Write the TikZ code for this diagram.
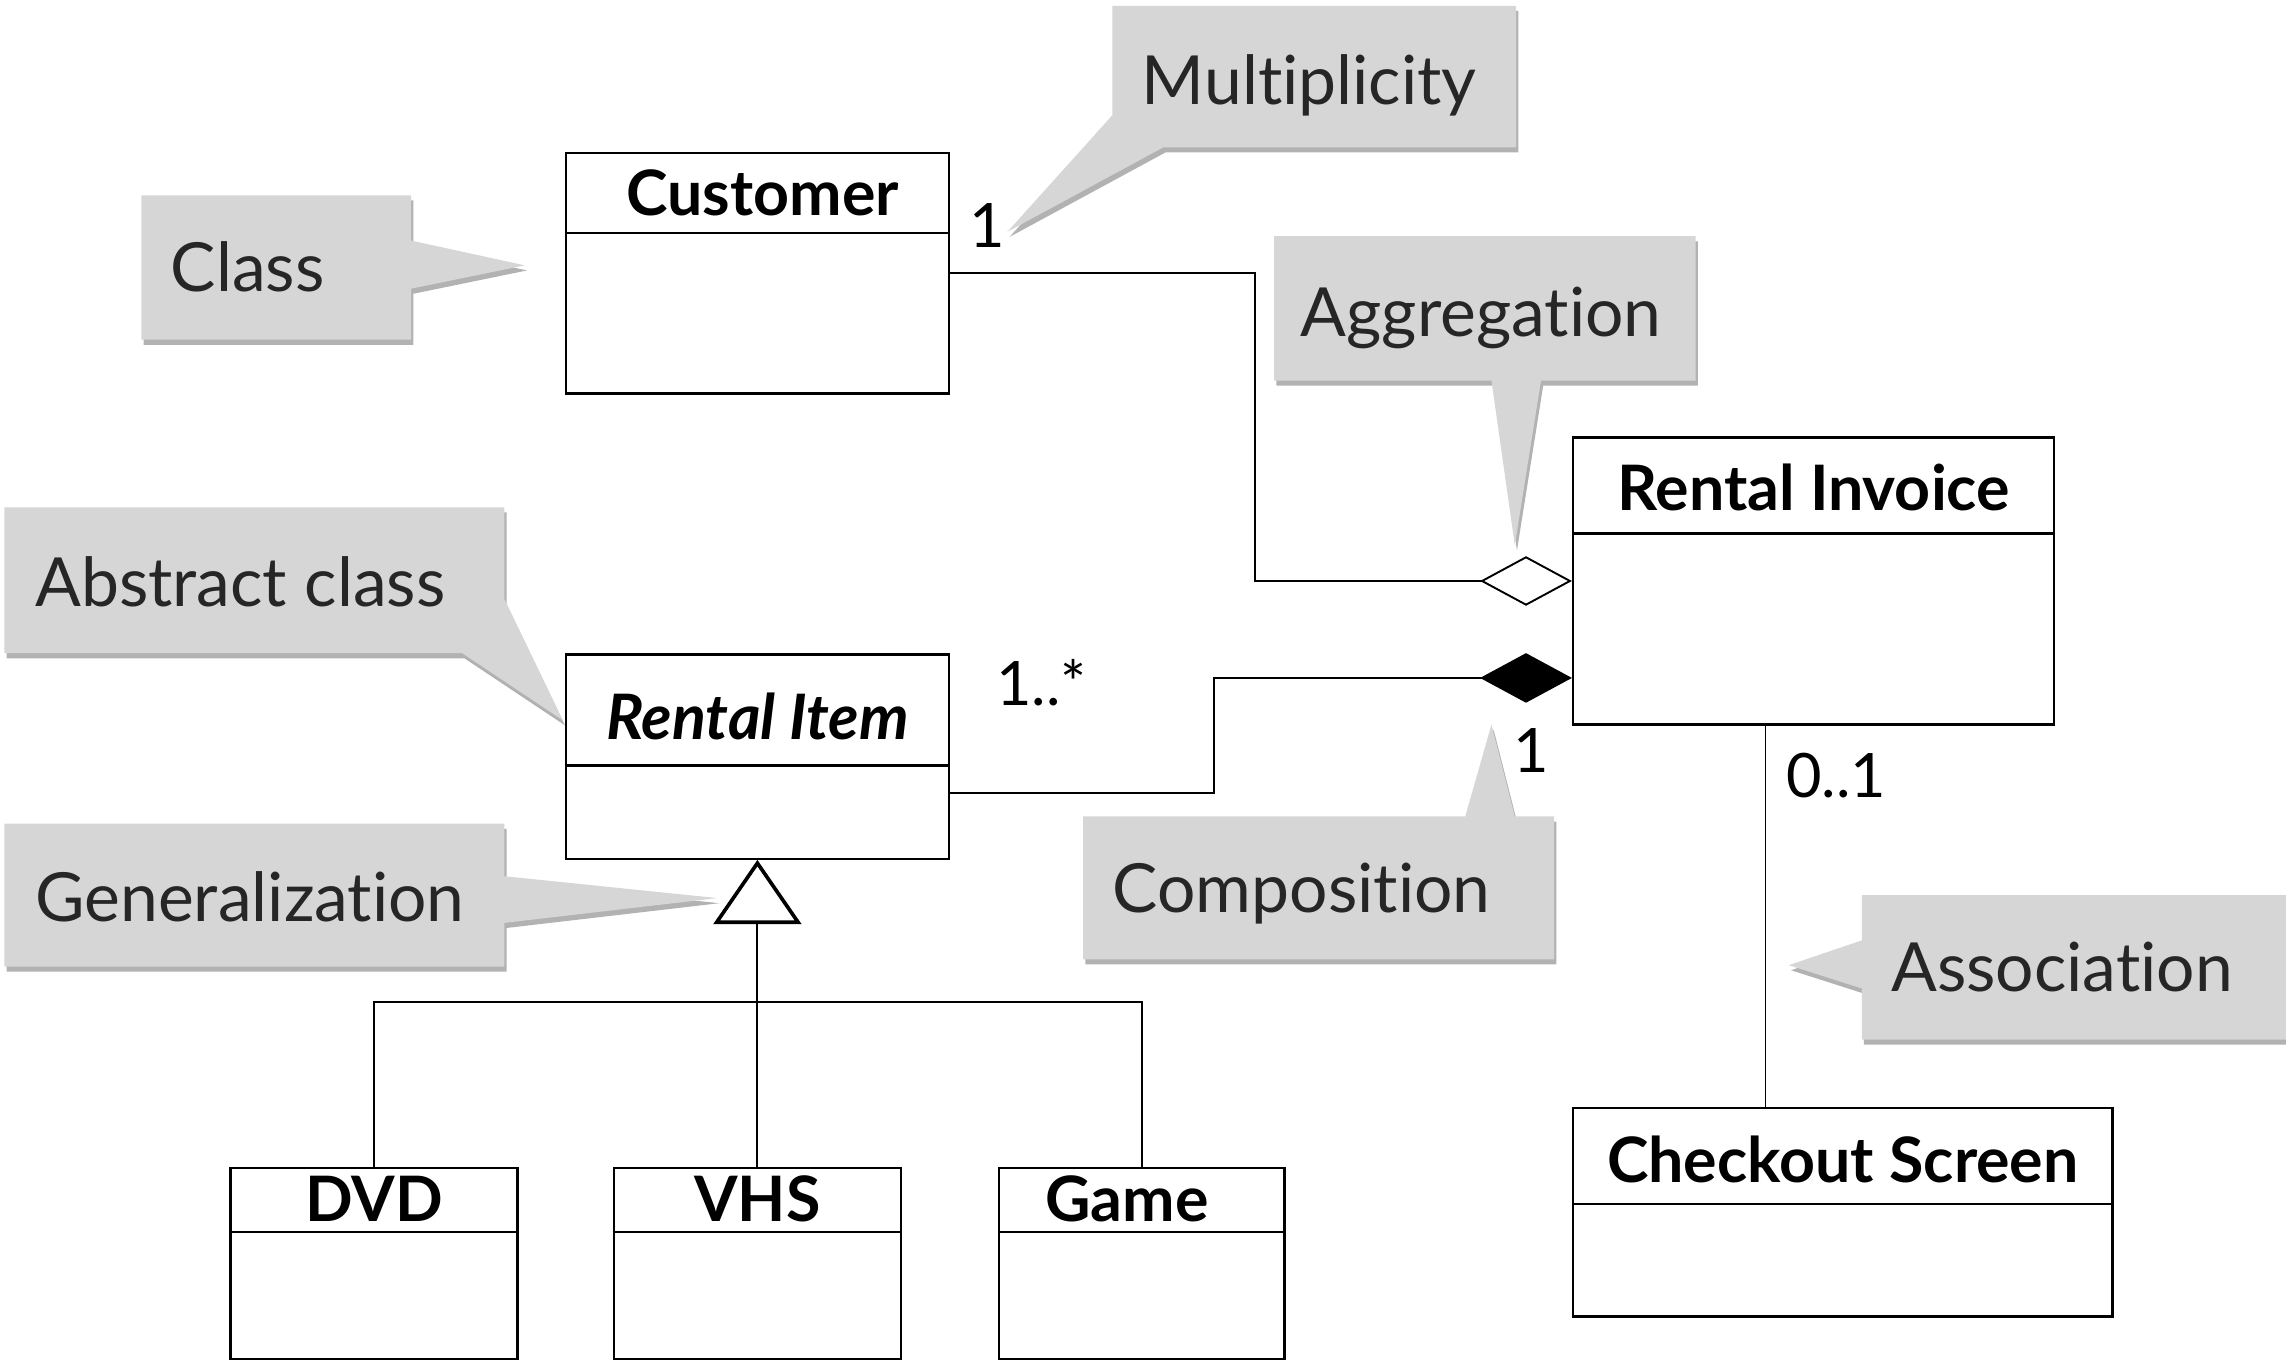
\documentclass[tikz,border=0pt]{standalone}
\usepackage{fontspec}
\setmainfont{Lato}[Ligatures=NoCommon]
\usetikzlibrary{arrows.meta,shadows,calc}
\definecolor{callfill}{RGB}{214,214,214}
\definecolor{calltext}{RGB}{38,38,38}
\begin{document}
\begin{tikzpicture}[x=1pt,y=-1pt,
 callout/.style={fill=callfill, draw=none, drop shadow={shadow xshift=1.5pt, shadow yshift=-3.5pt, opacity=0.3, fill=black}},
 calltxt/.style={anchor=base west, inner sep=0pt, text=calltext, font=\fontsize{46.5}{54}\selectfont},
 classbox/.style={draw, line width=1.6pt, fill=white, inner sep=0pt},
 headline/.style={line width=1.6pt},
 cname/.style={anchor=base, inner sep=0pt, font=\fontsize{43}{50}\selectfont\bfseries},
 conn/.style={line width=1.3pt},
 mult/.style={inner sep=0pt, font=\fontsize{42}{50}\selectfont},
]
\useasboundingbox (0,0) rectangle (1568,935);

% callouts
\path[callout] (97,134) -- (282,134) -- (282,165) -- (360,182) -- (282,198) -- (282,233) -- (97,233) -- cycle;
\path[callout] (763,4) -- (1040,4) -- (1040,101) -- (798,101) -- (691,159) -- (763,79) -- cycle;
\path[callout] (874,162) -- (1163,162) -- (1163,261) -- (1057,261) -- (1039,374) -- (1023,261) -- (874,261) -- cycle;
\path[callout] (3,348) -- (346,348) -- (346,411) -- (386,494) -- (317,448) -- (3,448) -- cycle;
\path[callout] (3,565) -- (346,565) -- (346,601) -- (492,616) -- (346,633) -- (346,663) -- (3,663) -- cycle;
\path[callout] (743,560) -- (1005,560) -- (1023,497) -- (1039,560) -- (1066,560) -- (1066,658) -- (743,658) -- cycle;
\path[callout] (1277,614) -- (1568,614) -- (1568,713) -- (1277,713) -- (1277,678) -- (1227,662) -- (1277,645) -- cycle;

\node[calltxt] (tclass) at (117,200) {Class};
\node[calltxt] (tmult) at (783,72) {Multiplicity};
\node[calltxt] (tagg) at (892,231) {Aggregation};
\node[calltxt] (tabs) at (24,416) {Abstract class};
\node[calltxt] (tgen) at (24,632) {Generalization};
\node[calltxt] (tcomp) at (763,626) {Composition};
\node[calltxt] (tassoc) at (1297,680) {Association};

% classes
\node[classbox, minimum width=263, minimum height=165] (cust) at (519.5,187.5) {};
\node[classbox, minimum width=330, minimum height=197] (inv) at (1244,398.5) {};
\node[classbox, minimum width=263, minimum height=140] (item) at (519.5,519) {};
\node[classbox, minimum width=197, minimum height=131] (dvd) at (256.5,866.5) {};
\node[classbox, minimum width=197, minimum height=131] (vhs) at (519.5,866.5) {};
\node[classbox, minimum width=196, minimum height=131] (game) at (783,866.5) {};
\node[classbox, minimum width=370, minimum height=143] (chk) at (1264,831.5) {};

\draw[headline] (cust.west |- 0,160) -- (cust.east |- 0,160);
\draw[headline] (inv.west |- 0,366) -- (inv.east |- 0,366);
\draw[headline] (item.west |- 0,525) -- (item.east |- 0,525);
\draw[headline] (dvd.west |- 0,845) -- (dvd.east |- 0,845);
\draw[headline] (vhs.west |- 0,845) -- (vhs.east |- 0,845);
\draw[headline] (game.west |- 0,845) -- (game.east |- 0,845);
\draw[headline] (chk.west |- 0,826) -- (chk.east |- 0,826);

\node[cname] (ncust) at (523,147.5) {Customer};
\node[cname] (ninv) at (inv.center |- 0,350) {Rental Invoice};
\node[cname] (nitem) at (item.center |- 0,507) {\itshape Rental Item};
\node[cname] (ndvd) at (dvd.center |- 0,838) {DVD};
\node[cname] (nvhs) at (vhs.center |- 0,838) {VHS};
\node[cname] (ngame) at (773,838) {Game};
\node[cname] (nchk) at (chk.center |- 0,811) {Checkout Screen};

% connectors
\draw[conn, -{Diamond[length=63pt, width=34pt, fill=white]}] (cust.east) -- ++(209,0) |- (inv.west);
\coordinate (compin) at (inv.west |- 0,465);
\coordinate (compout) at (item.east |- 0,544);
\draw[conn, -{Diamond[length=63pt, width=34pt]}] (compout) -- ++(181,0) |- (compin);
\draw[conn] (dvd.north) -- (dvd.north |- 0,687) -- (game.north |- 0,687) -- (game.north);
\draw[conn, -{Triangle[length=44pt, width=60pt, fill=white, line width=2.5pt]}] (vhs.north) -- (item.south);
\draw[conn] (inv.south -| 1211,0) -- (chk.north -| 1211,0);

% multiplicities
\node[mult, anchor=base] (m1) at (677,170) {1};
\node[mult, anchor=base west] (m2) at (683,484) {1..*};
\node[mult, anchor=base] (m3) at (1050,530) {1};
\node[mult, anchor=base west] (m4) at (1225,547) {0..1};
\end{tikzpicture}
\end{document}
